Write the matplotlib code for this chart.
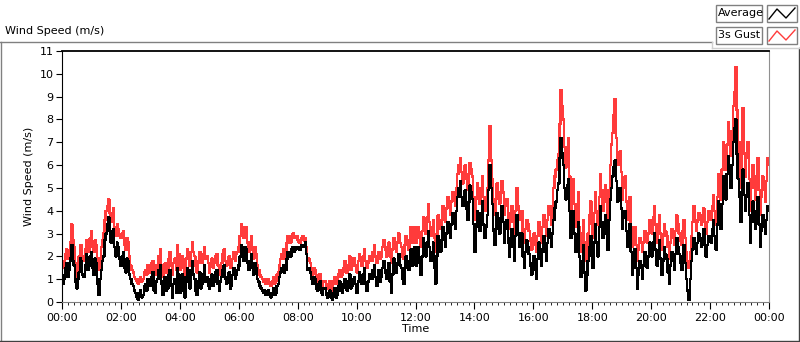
import matplotlib
matplotlib.use('Agg')
import matplotlib.pyplot as plt
import numpy as np
from matplotlib.lines import Line2D
from matplotlib.patches import Rectangle

# 2.5-minute samples, 24 per hour (m/s)
avg_by_hour = [
    [1.2,0.8,1.0,1.5,1.7,1.1,1.4,1.9,2.5,1.8,1.6,0.9,0.6,1.0,1.3,1.9,1.8,1.2,1.1,1.6,2.1,1.4,1.6,2.0],
    [2.2,1.5,1.2,1.9,1.7,0.8,0.3,1.0,1.4,1.8,2.0,2.7,3.0,3.4,3.7,3.1,2.6,3.0,3.2,2.4,2.0,2.6,2.4,1.9],
    [1.6,2.0,2.2,1.5,1.3,1.9,1.8,1.2,1.0,0.8,0.7,0.5,0.4,0.2,0.1,0.4,0.5,0.2,0.3,0.7,0.8,0.5,1.0,0.9],
    [0.7,1.1,1.3,0.5,0.4,0.9,1.0,1.4,1.6,0.8,0.3,0.9,1.1,0.5,0.6,1.2,1.4,0.7,0.2,0.8,1.0,0.4,1.5,1.2],
    [0.4,0.9,1.2,0.5,0.2,1.1,1.5,0.9,0.6,1.4,1.8,1.2,1.0,0.5,0.3,0.9,1.3,0.6,0.8,1.2,1.6,0.9,1.1,0.7],
    [0.6,1.0,1.2,0.7,0.9,1.3,1.4,0.8,0.5,0.9,1.1,1.4,1.6,1.0,0.8,1.1,1.3,0.6,0.7,1.2,1.5,1.0,1.2,1.4],
    [1.6,2.0,2.5,2.1,1.8,2.4,2.3,1.7,1.4,1.8,2.1,1.5,1.2,1.7,1.5,1.0,0.9,0.7,0.6,0.5,0.4,0.5,0.3,0.4],
    [0.5,0.3,0.2,0.4,0.6,0.3,0.4,0.7,0.8,1.1,1.3,1.5,1.6,1.3,1.4,1.9,2.2,2.1,2.0,2.3,2.4,2.2,2.3,2.4],
    [2.4,2.3,2.3,2.5,2.5,2.4,2.6,2.1,1.4,1.5,1.3,1.0,0.8,1.1,1.0,0.6,0.5,0.8,0.9,0.4,0.3,0.6,0.6,0.3],
    [0.2,0.4,0.5,0.2,0.1,0.4,0.6,0.2,0.3,0.7,0.9,0.5,0.4,0.8,1.0,0.6,0.5,0.9,1.2,0.6,0.7,1.0,1.1,0.8],
    [0.4,0.9,1.3,0.9,0.8,1.2,1.5,0.8,0.5,0.9,1.2,1.0,1.0,1.4,1.6,1.1,0.7,1.0,1.4,0.9,1.1,1.5,1.8,1.3],
    [1.0,1.4,1.7,0.9,0.4,1.2,1.9,1.5,1.3,1.7,2.1,1.6,1.5,1.0,0.8,1.5,2.0,1.7,1.4,1.8,2.3,1.6,1.9,2.4],
    [1.6,2.1,2.4,1.7,1.2,2.0,2.8,2.3,2.0,2.6,3.1,2.4,1.8,2.2,2.6,1.5,0.8,2.0,2.9,2.5,2.2,2.7,3.3,2.8],
    [2.4,3.0,3.5,3.1,2.8,3.4,3.9,3.6,3.2,4.0,4.6,5.0,5.3,4.6,4.2,4.5,4.9,4.1,3.6,4.4,5.1,4.8,4.5,3.4],
    [2.2,3.3,4.0,3.5,3.1,3.9,4.4,3.4,2.8,3.3,3.8,4.9,6.0,5.0,4.3,3.1,2.5,3.2,3.9,3.4,3.0,3.7,4.2,3.5],
    [2.6,3.2,3.6,2.6,2.0,2.8,3.2,2.4,1.8,2.9,3.8,3.0,2.4,2.9,3.0,2.0,1.5,2.2,2.7,2.4,2.1,1.6,1.2,1.7],
    [2.0,1.4,1.0,1.9,2.6,2.1,1.6,2.3,2.9,2.2,1.8,2.6,3.2,2.8,2.4,3.0,3.6,4.1,4.4,4.9,5.2,6.3,7.2,6.5],
    [6.0,5.0,4.5,5.1,5.4,4.0,2.8,3.6,4.0,3.0,2.2,2.9,3.5,2.0,1.1,1.8,2.5,1.3,0.5,1.2,1.8,2.4,2.9,2.0],
    [1.5,2.6,3.4,2.6,2.0,3.3,4.2,3.5,2.8,3.2,3.8,3.0,2.3,3.6,4.5,5.0,5.5,5.9,6.2,5.3,4.4,4.8,5.0,4.1],
    [3.2,3.7,4.0,3.1,2.4,2.9,3.4,2.2,1.2,1.8,2.3,1.5,0.6,1.2,1.8,1.5,1.0,1.6,2.2,1.9,1.5,2.0,2.6,2.2],
    [2.0,2.6,3.0,2.3,1.6,2.2,2.7,1.9,1.2,1.8,2.4,2.1,1.9,1.3,0.8,1.6,2.2,1.8,1.4,2.1,2.8,2.4,2.1,1.7],
    [1.4,2.0,2.5,1.7,1.0,0.5,0.1,1.0,1.8,2.3,2.8,2.4,2.1,2.6,3.0,2.7,2.4,2.8,3.2,2.5,2.0,2.5,2.9,2.7],
    [2.6,3.2,3.6,2.9,2.3,3.4,4.4,3.8,3.2,4.3,5.5,4.9,4.5,5.6,6.4,5.7,5.0,6.0,7.0,7.6,8.0,6.5,5.4,4.6],
    [3.5,4.8,5.8,4.7,4.0,4.6,5.2,3.8,2.6,3.5,4.4,3.8,3.2,4.0,4.6,3.4,2.4,3.1,3.8,3.3,3.0,3.6,4.2,4.0],
]
gust_by_hour = [
    [1.8,1.5,1.6,2.1,2.3,1.9,2.0,2.6,3.4,2.7,2.4,1.6,1.1,1.7,2.0,2.5,2.5,2.0,1.8,2.3,2.7,2.2,2.3,2.8],
    [3.1,2.4,2.2,2.7,2.5,1.9,1.4,1.9,2.4,2.7,3.0,3.6,4.0,4.2,4.5,3.9,3.5,3.8,4.1,3.3,2.9,3.4,3.2,2.9],
    [2.8,3.0,3.1,2.5,2.3,2.8,2.6,2.0,1.6,1.4,1.3,1.1,1.0,0.9,0.8,1.0,1.1,0.9,1.0,1.3,1.4,1.2,1.6,1.5],
    [1.3,1.7,1.8,1.3,1.2,1.6,1.5,2.0,2.3,1.6,1.1,1.6,1.7,1.3,1.4,1.9,2.2,1.6,1.2,1.7,1.9,1.4,2.5,2.1],
    [1.4,1.8,2.0,1.5,1.2,1.9,2.3,2.0,1.6,2.2,2.6,2.2,2.0,1.6,1.3,1.8,2.2,1.7,1.7,2.1,2.4,1.9,2.0,1.7],
    [1.3,1.7,1.9,1.5,1.7,2.0,2.1,1.6,1.2,1.5,1.7,2.1,2.3,1.8,1.6,1.8,2.0,1.5,1.5,1.9,2.2,1.8,2.1,2.2],
    [2.4,2.9,3.4,2.9,2.8,3.3,3.3,2.6,2.2,2.6,2.9,2.3,1.9,2.4,2.1,1.6,1.4,1.2,1.1,1.0,0.9,1.0,0.8,0.9],
    [1.0,0.8,0.7,0.9,1.1,0.8,0.9,1.2,1.3,1.6,1.9,2.1,2.3,1.9,2.0,2.6,2.9,2.8,2.6,2.9,3.0,2.8,2.8,2.9],
    [2.7,2.6,2.6,2.8,2.9,2.7,2.8,2.4,1.8,1.9,1.7,1.4,1.2,1.5,1.4,1.0,0.9,1.2,1.2,0.8,0.6,0.9,0.9,0.7],
    [0.6,0.8,0.9,0.6,0.5,0.9,1.1,0.8,0.8,1.2,1.4,1.1,1.2,1.5,1.8,1.3,1.3,1.6,2.0,1.4,1.6,1.9,1.9,1.6],
    [1.3,1.8,2.1,1.8,1.6,2.0,2.3,1.8,1.5,1.7,2.0,1.9,1.8,2.2,2.5,2.0,1.7,1.9,2.2,1.9,2.0,2.4,2.7,2.3],
    [2.0,2.4,2.6,2.0,1.7,2.3,2.8,2.5,2.2,2.6,3.0,2.6,2.4,2.0,1.9,2.5,2.9,2.6,2.3,2.7,3.3,2.6,2.8,3.3],
    [2.6,3.0,3.3,2.8,2.4,3.1,3.7,3.3,3.0,3.7,4.3,3.5,2.9,3.3,3.6,2.8,2.2,3.0,3.8,3.5,3.2,3.6,4.2,3.9],
    [3.5,4.1,4.6,4.2,3.8,4.4,4.8,4.6,4.2,5.0,5.6,6.0,6.3,5.7,5.2,5.6,6.0,5.4,4.9,5.6,6.1,5.8,5.5,4.6],
    [3.6,4.5,5.2,4.7,4.3,5.0,5.5,4.6,4.0,4.5,5.0,6.2,7.7,6.2,5.4,4.4,3.8,4.5,5.2,4.7,4.3,4.8,5.3,4.8],
    [3.8,4.2,4.5,3.7,3.2,3.9,4.2,3.5,3.0,4.0,5.0,4.2,3.6,3.9,4.0,3.1,2.6,3.2,3.6,3.4,3.1,2.7,2.3,2.8],
    [3.0,2.5,2.2,2.9,3.5,3.1,2.6,3.3,3.8,3.3,2.9,3.6,4.2,3.8,3.4,4.2,5.0,5.5,5.8,6.2,6.5,7.8,9.3,8.6],
    [8.0,6.8,5.9,6.6,7.2,5.5,4.0,4.8,5.4,4.3,3.3,4.0,4.8,3.3,2.2,3.0,3.6,2.6,1.8,2.4,3.0,3.8,4.4,3.4],
    [2.8,3.9,4.8,4.0,3.4,4.6,5.6,4.9,4.0,4.6,5.1,4.4,3.6,4.9,6.0,6.9,7.4,8.2,8.9,7.2,6.0,6.4,6.6,5.7],
    [4.5,5.0,5.5,4.4,3.6,4.0,4.6,3.3,2.4,2.9,3.3,2.5,1.8,2.3,2.8,2.6,2.2,2.6,3.1,2.9,2.6,3.0,3.6,3.3],
    [3.0,3.7,4.2,3.4,2.6,3.2,3.8,3.0,2.3,2.9,3.4,3.1,2.9,2.4,1.9,2.6,3.2,2.8,2.5,3.1,3.8,3.4,3.0,2.7],
    [2.5,3.1,3.6,2.8,2.2,1.8,1.5,2.2,2.9,3.5,4.2,3.6,3.1,3.5,3.9,3.6,3.4,3.8,4.1,3.5,3.0,3.5,4.0,3.8],
    [3.6,4.2,4.7,4.0,3.4,4.6,5.6,5.0,4.5,5.8,7.0,6.3,5.8,6.9,7.9,7.1,6.4,7.5,8.6,9.2,10.3,8.4,7.0,6.1],
    [5.0,7.0,8.5,6.5,5.5,6.3,7.0,5.4,4.0,5.0,6.0,5.3,4.5,5.5,6.3,4.9,3.8,4.6,5.5,4.9,4.4,5.3,6.3,6.0],
]
average = [v for hour in avg_by_hour for v in hour]
gust = [v for hour in gust_by_hour for v in hour]
series_names = ["Average", "3s Gust"]
x_tick_labels = ["00:00", "02:00", "04:00", "06:00", "08:00", "10:00", "12:00",
                 "14:00", "16:00", "18:00", "20:00", "22:00", "00:00"]
y_ticks = list(range(0, 12))

W, H = 800, 342
fig = plt.figure(figsize=(W / 100, H / 100), dpi=100)
plt.rcParams['font.family'] = ['DejaVu Sans']

def fx(px):
    return px / W

def fy(py):
    return 1 - py / H

ax = fig.add_axes([fx(62), fy(302), fx(769) - fx(62), fy(51) - fy(302)])
t = np.linspace(0, 1440, len(average))
red = '#ff3b3b'
ax.plot(t, gust, color=red, lw=1.0, drawstyle='steps-mid', antialiased=False)
ax.plot(t, average, color='black', lw=1.0, drawstyle='steps-mid', antialiased=False)

ax.set_xlim(0, 1440)
ax.set_ylim(0, 11)
ax.set_yticks(y_ticks)
ax.set_xticks(np.arange(0, 1441, 120))
ax.set_xticklabels(x_tick_labels)
ax.set_xticks(np.arange(0, 1441, 12), minor=True)
ax.tick_params(axis='both', which='major', labelsize=8, direction='out', length=4, pad=2, color='black')
ax.tick_params(axis='x', which='minor', direction='out', length=2.5, color='black')
ax.tick_params(axis='x', which='major', length=5, pad=3)
ax.spines['top'].set_color('black')
ax.spines['top'].set_linewidth(1.3)
ax.spines['left'].set_color('black')
ax.spines['bottom'].set_color('#808080')
ax.spines['right'].set_color('#909090')
ax.set_xlabel('Time', fontsize=8, labelpad=1)
ax.set_ylabel('Wind Speed (m/s)', fontsize=8, labelpad=4)

# outer frame
gray = '#808080'
fig.add_artist(Line2D([fx(0), fx(712)], [fy(42), fy(42)], color=gray, lw=1))
fig.add_artist(Line2D([fx(0.5), fx(0.5)], [fy(42), fy(342)], color=gray, lw=1))
fig.add_artist(Line2D([fx(0), fx(800)], [fy(341), fy(341)], color='#404040', lw=1))
fig.add_artist(Line2D([fx(799), fx(799)], [fy(48), fy(342)], color='#404040', lw=1))
fig.add_artist(Line2D([fx(712), fx(712)], [fy(42), fy(48)], color='#d0d0d0', lw=1))
fig.add_artist(Line2D([fx(712), fx(800)], [fy(48), fy(48)], color='#d0d0d0', lw=1))

fig.text(fx(5), fy(31), 'Wind Speed (m/s)', fontsize=8, va='center', ha='left')

# legend
for i, (name, col) in enumerate(zip(series_names, ['black', red])):
    top = 5 + i * 22
    fig.add_artist(Rectangle((fx(716), fy(top + 17)), fx(46), fy(0) - fy(17),
                             facecolor='white', edgecolor=gray, lw=1))
    fig.text(fx(718), fy(top + 8.5), name, fontsize=8, va='center', ha='left')
    fig.add_artist(Rectangle((fx(767), fy(top + 17)), fx(30), fy(0) - fy(17),
                             facecolor='white', edgecolor=gray, lw=1))
    zx = [769, 777, 786, 795]
    zy = [top + 14, top + 4, top + 13, top + 3]
    fig.add_artist(Line2D([fx(v) for v in zx], [fy(v) for v in zy], color=col, lw=1))

fig.savefig('out.png', dpi=100)
